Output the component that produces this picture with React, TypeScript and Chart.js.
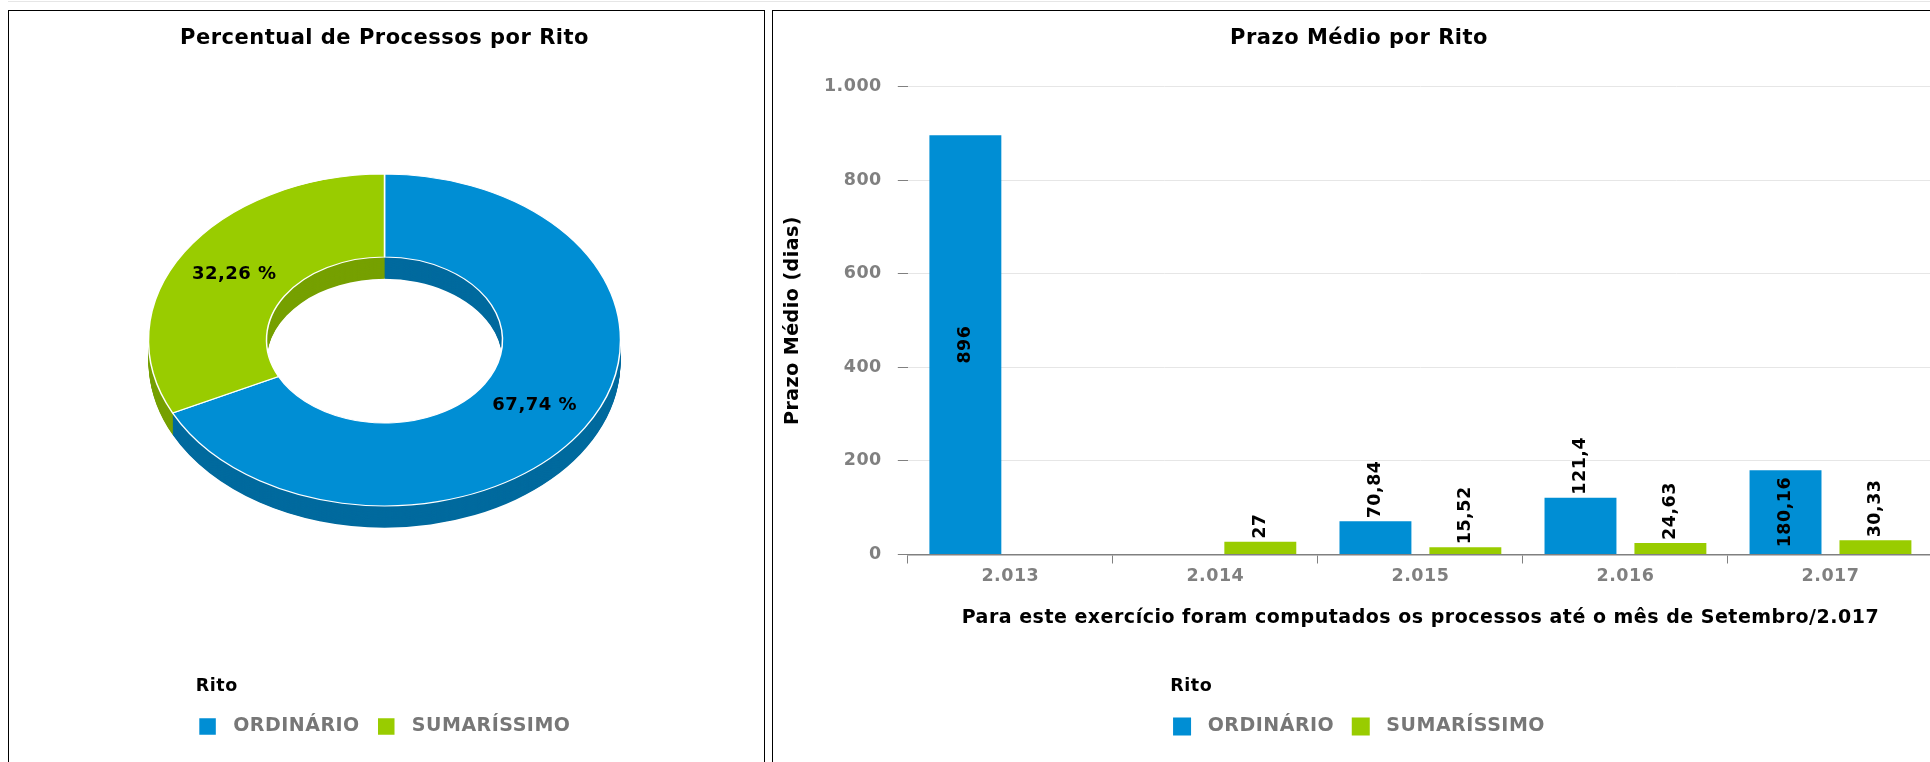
import React, { useEffect, useRef } from 'react';
import { Chart, registerables } from 'chart.js';

Chart.register(...registerables);

const FONT = "'DejaVu Sans', 'Noto Sans', sans-serif";

// ---------------- data ----------------
const ritoLabels = ['ORDINÁRIO', 'SUMARÍSSIMO'];
const ritoCounts = [21, 10];

const years = ['2.013', '2.014', '2.015', '2.016', '2.017'];
const prazoOrdinario = [896, null, 70.84, 121.4, 180.16];
const prazoSumarissimo = [null, 27, 15.52, 24.63, 30.33];

const yMin = 0;
const yMax = 1000;
const yStep = 200;

const pieTitle = 'Percentual de Processos por Rito';
const barTitle = 'Prazo Médio por Rito';
const yTitle = 'Prazo Médio (dias)';
const xTitle = 'Para este exercício foram computados os processos até o mês de Setembro/2.017';
const legendTitle = 'Rito';

// ---------------- styles ----------------
const BLUE = '#008ED4';
const GREEN = '#99CC00';
const BLUE_SIDE = '#006A9E';
const GREEN_SIDE = '#76A000';
const TICK_GRAY = '#808080';
const LEGEND_GRAY = '#777777';
const LS = '0.5px';

const fmtNum = (v: number) => {
  const [i, d] = String(v).split('.');
  const ii = i.replace(/\B(?=(\d{3})+(?!\d))/g, '.');
  return d ? ii + ',' + d : ii;
};

const spacingPlugin = {
  id: 'letterSpacing',
  beforeUpdate(chart: any) {
    chart.ctx.letterSpacing = LS;
  },
  beforeDraw(chart: any) {
    chart.ctx.letterSpacing = LS;
  },
};

// legend title drawn aligned with the first legend box
const legendTitlePlugin = {
  id: 'legendTitleAlign',
  afterDraw(chart: any) {
    const lg = chart.legend;
    if (!lg || !lg.legendHitBoxes || !lg.legendHitBoxes.length) return;
    const ctx = chart.ctx;
    ctx.save();
    ctx.letterSpacing = LS;
    ctx.font = `bold 17.5px ${FONT}`;
    ctx.fillStyle = '#000';
    ctx.textAlign = 'left';
    ctx.textBaseline = 'middle';
    ctx.fillText(legendTitle, lg.legendHitBoxes[0].left - 2.7, lg.top + 10);
    ctx.restore();
  },
};

const titleOpts = (text: string) => ({
  display: true,
  text,
  color: '#000',
  font: { family: FONT, size: 21, weight: 'bold' },
  padding: { top: 15.4, bottom: 34.9 },
});

const legendOpts = (gen: (c: any) => any[]) => ({
  display: true,
  position: 'bottom',
  align: 'center',
  title: {
    display: true,
    text: legendTitle,
    position: 'start',
    color: 'rgba(0,0,0,0)',
    font: { family: FONT, size: 17.5, weight: 'bold' },
    padding: { top: 0, bottom: 1.85 },
  },
  labels: {
    boxWidth: 18,
    boxHeight: 18,
    padding: 17.5,
    color: LEGEND_GRAY,
    font: { family: FONT, size: 19, weight: 'bold' },
    generateLabels: (chart: any) => gen(chart).map((l: any) => ({ ...l, text: ' ' + l.text })),
  },
});

// 3D elliptical doughnut
const pie3dPlugin = {
  id: 'pie3d',
  beforeDatasetsDraw(chart: any, _args: any, opts: any) {
    const ctx = chart.ctx;
    const meta = chart.getDatasetMeta(0);
    const cyC = meta.data.length ? meta.data[0].y : 0;
    ctx.save();
    ctx.translate(0, opts.centerY);
    ctx.scale(1, opts.ratio);
    ctx.translate(0, -cyC);
    const d = Math.ceil(opts.depth / opts.ratio);
    for (let i = d; i >= 1; i--) {
      meta.data.forEach((arc: any, j: number) => {
        const p = arc.getProps(['x', 'y', 'startAngle', 'endAngle', 'innerRadius', 'outerRadius'], true);
        ctx.fillStyle = opts.sideColors[j];
        ctx.beginPath();
        ctx.arc(p.x, p.y + i, p.outerRadius, p.startAngle, p.endAngle);
        ctx.arc(p.x, p.y + i, p.innerRadius, p.endAngle, p.startAngle, true);
        ctx.closePath();
        ctx.fill();
      });
    }
  },
  afterDatasetsDraw(chart: any) {
    chart.ctx.restore();
  },
  afterDraw(chart: any, _args: any, opts: any) {
    const ctx = chart.ctx;
    const meta = chart.getDatasetMeta(0);
    const values: number[] = chart.data.datasets[0].data;
    const total = values.reduce((a, b) => a + b, 0);
    ctx.save();
    ctx.font = `bold 18px ${FONT}`;
    ctx.letterSpacing = LS;
    ctx.fillStyle = '#000';
    ctx.textAlign = 'center';
    ctx.textBaseline = 'middle';
    meta.data.forEach((arc: any, i: number) => {
      const p = arc.getProps(['x', 'y', 'startAngle', 'endAngle', 'innerRadius', 'outerRadius'], true);
      const mid = (p.startAngle + p.endAngle) / 2;
      const r = (p.innerRadius + p.outerRadius) / 2;
      const x = p.x + Math.cos(mid) * r;
      const y = opts.centerY + Math.sin(mid) * r * opts.ratio;
      const pct = ((values[i] / total) * 100).toFixed(2).replace('.', ',') + ' %';
      ctx.fillText(pct, x, y);
    });
    ctx.restore();
  },
};

// rotated value labels on bars
const barLabelPlugin = {
  id: 'barLabels',
  afterDatasetsDraw(chart: any) {
    const ctx = chart.ctx;
    ctx.save();
    ctx.font = `bold 17.5px ${FONT}`;
    ctx.letterSpacing = LS;
    ctx.fillStyle = '#000';
    ctx.textBaseline = 'middle';
    chart.data.datasets.forEach((ds: any, di: number) => {
      const meta = chart.getDatasetMeta(di);
      meta.data.forEach((bar: any, i: number) => {
        const v = ds.data[i];
        if (v == null) return;
        const text = fmtNum(v);
        const w = ctx.measureText(text).width;
        const { x, y, base } = bar.getProps(['x', 'y', 'base'], true);
        const h = base - y;
        ctx.save();
        if (h >= w + 6) {
          ctx.translate(x, (y + base) / 2);
          ctx.rotate(-Math.PI / 2);
          ctx.textAlign = 'center';
        } else {
          ctx.translate(x, y - 3);
          ctx.rotate(-Math.PI / 2);
          ctx.textAlign = 'left';
        }
        ctx.fillText(text, 0, 0);
        ctx.restore();
      });
    });
    ctx.restore();
  },
};

function PieChart() {
  const ref = useRef<HTMLCanvasElement>(null);
  useEffect(() => {
    const chart = new Chart(ref.current as HTMLCanvasElement, {
      type: 'doughnut',
      data: {
        labels: ritoLabels,
        datasets: [
          {
            data: ritoCounts,
            backgroundColor: [BLUE, GREEN],
            borderColor: '#ffffff',
            borderWidth: 1.5,
            hoverOffset: 0,
          },
        ],
      },
      options: {
        responsive: false,
        animation: false,
        radius: 236,
        cutout: '50%',
        layout: { padding: { right: 4 } },
        plugins: {
          title: titleOpts(pieTitle),
          legend: legendOpts((c) => (Chart as any).overrides.doughnut.plugins.legend.labels.generateLabels(c)),
          tooltip: { enabled: false },
          pie3d: { centerY: 329, ratio: 0.703, depth: 21.7, sideColors: [BLUE_SIDE, GREEN_SIDE] },
        },
      } as any,
      plugins: [spacingPlugin, pie3dPlugin, legendTitlePlugin],
    });
    return () => chart.destroy();
  }, []);
  return <canvas ref={ref} width={755} height={735} style={{ width: 755, height: 735, display: 'block' }} />;
}

function BarChart() {
  const ref = useRef<HTMLCanvasElement>(null);
  useEffect(() => {
    const chart = new Chart(ref.current as HTMLCanvasElement, {
      type: 'bar',
      data: {
        labels: years,
        datasets: [
          {
            label: ritoLabels[0],
            data: prazoOrdinario,
            backgroundColor: BLUE,
            borderWidth: 0,
            yAxisID: 'y',
            categoryPercentage: 0.877,
            barPercentage: 0.8,
          },
          {
            label: ritoLabels[1],
            data: prazoSumarissimo,
            backgroundColor: GREEN,
            borderWidth: 0,
            yAxisID: 'y',
            categoryPercentage: 0.877,
            barPercentage: 0.8,
          },
        ],
      },
      options: {
        responsive: false,
        animation: false,
        scales: {
          x: {
            offset: true,
            grid: {
              display: true,
              drawOnChartArea: false,
              drawTicks: true,
              tickLength: 9,
              tickColor: TICK_GRAY,
              offset: true,
              lineWidth: 1,
            },
            border: { display: true, color: TICK_GRAY, width: 1.5, z: 1 },
            ticks: { color: TICK_GRAY, font: { family: FONT, size: 17.5, weight: 'bold' }, padding: 2 },
            title: {
              display: true,
              text: xTitle,
              color: '#000',
              font: { family: FONT, size: 19, weight: 'bold' },
              padding: { top: 0, bottom: 47.25 },
            },
            afterFit: (s: any) => {
              s.height = 122.15;
            },
          },
          y: {
            min: yMin,
            max: yMax,
            ticks: {
              stepSize: yStep,
              color: TICK_GRAY,
              font: { family: FONT, size: 17.5, weight: 'bold' },
              padding: 16,
              callback: (v: any) => fmtNum(Number(v)),
            },
            grid: { color: '#e6e6e6', tickColor: TICK_GRAY, tickLength: 10, lineWidth: 1 },
            border: { display: false },
            title: {
              display: true,
              text: yTitle,
              color: '#000',
              font: { family: FONT, size: 19, weight: 'bold' },
              padding: { top: 8.6, bottom: 0 },
            },
            afterFit: (s: any) => {
              s.width = 134.8;
            },
          },
          y2: {
            position: 'right',
            display: true,
            grid: { display: false, drawTicks: false },
            ticks: { display: false },
            border: { display: false },
            afterFit: (s: any) => {
              s.width = 12;
            },
          },
        },
        plugins: {
          title: titleOpts(barTitle),
          legend: legendOpts((c) => Chart.defaults.plugins.legend.labels.generateLabels(c)),
          tooltip: { enabled: false },
        },
      } as any,
      plugins: [spacingPlugin, barLabelPlugin, legendTitlePlugin],
    });
    return () => chart.destroy();
  }, []);
  return <canvas ref={ref} width={1172} height={735} style={{ width: 1172, height: 735, display: 'block' }} />;
}

export default function App() {
  return (
    <div style={{ position: 'fixed', left: 0, top: 0, width: 1930, height: 762, overflow: 'hidden', background: '#fff' }}>
      <div style={{ position: 'absolute', left: 8, top: 1, width: 1922, height: 1, background: '#e6e6e6' }} />
      <div
        style={{
          position: 'absolute',
          left: 8,
          top: 10,
          width: 757,
          height: 800,
          boxSizing: 'border-box',
          border: '1px solid #000',
        }}
      >
        <PieChart />
      </div>
      <div
        style={{
          position: 'absolute',
          left: 772,
          top: 10,
          width: 1174,
          height: 800,
          boxSizing: 'border-box',
          border: '1px solid #000',
        }}
      >
        <BarChart />
      </div>
    </div>
  );
}
